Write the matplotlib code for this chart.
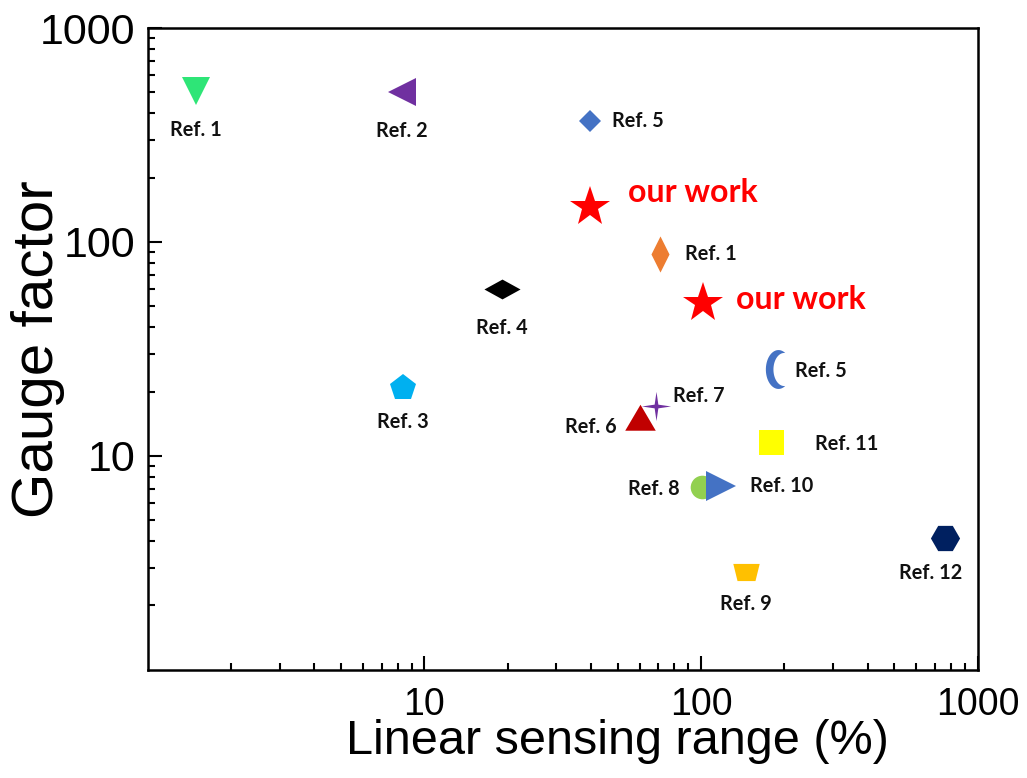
import numpy as np
import matplotlib
matplotlib.use("Agg")
import matplotlib.pyplot as plt
from matplotlib.ticker import LogLocator, NullFormatter, FixedLocator, FixedFormatter

# linear sensing range (%) and gauge factor for each sensor
names = ["Ref. 1", "Ref. 2", "Ref. 5", "our work", "Ref. 1", "our work", "Ref. 4",
         "Ref. 5", "Ref. 3", "Ref. 7", "Ref. 6", "Ref. 11", "Ref. 8", "Ref. 10",
         "Ref. 9", "Ref. 12"]
ranges = [1.49, 8.26, 39.7, 39.7, 71.1, 101.7, 19.0, 190, 8.33, 68.8, 60.2, 179, 100.8, 118, 145, 760]
gauge = [508, 503, 369, 146, 88.3, 52.1, 60.0, 25.4, 20.7, 17.1, 15.0, 11.6, 7.14, 7.2, 2.87, 4.13]
colors = ["#2EE577", "#7030A0", "#4472C4", "#FF0000", "#ED7D31", "#FF0000", "#000000",
          "#4472C4", "#00B0F0", "#7030A0", "#C00000", "#FFFF00", "#92D050", "#4472C4",
          "#FFC000", "#002060"]


def crescent():
    a1 = np.radians(np.linspace(62, 298, 40))
    outer = np.c_[np.cos(a1), np.sin(a1)]
    cx, r = 0.45, 0.85
    # intersection angles for the inner arc
    x0 = (1 - r**2 + cx**2) / (2 * cx)
    y0 = np.sqrt(1 - x0**2)
    t0 = np.degrees(np.arctan2(y0, x0 - cx))
    a2 = np.radians(np.linspace(360 - t0, t0, 40))
    inner = np.c_[cx + r * np.cos(a2), r * np.sin(a2)]
    pts = np.vstack([outer, inner])
    pts[:, 0] *= 0.65
    return pts


def four_star():
    pts = []
    for k in range(8):
        ang = np.radians(90 + 45 * k)
        rad = 1.0 if k % 2 == 0 else 0.18
        pts.append((rad * np.cos(ang), rad * np.sin(ang)))
    return pts


markers = [
    ("v", 20),
    ("<", 20),
    ("D", 11),
    ("*", 30),
    ([(0, 1), (0.5, 0), (0, -1), (-0.5, 0)], 26),
    ("*", 30),
    ([(-1, 0), (0, 0.55), (1, 0), (0, -0.55)], 26),
    (crescent(), 28),
    ("p", 20),
    (four_star(), 21),
    ([(-1, -0.8), (1, -0.8), (0, 0.9)], 22),
    ("s", 18),
    ("o", 17),
    (">", 21),
    ([(-1, 0.65), (1, 0.65), (0.68, -0.65), (-0.68, -0.65)], 19),
    ("H", 21),
]

# label placement: (dx, dy) in points, horizontal alignment
label_pos = [
    (0, -28, "center"), (0, -28, "center"), (16, 0, "left"), (27, 10, "left"),
    (18, 0, "left"), (24, 2, "left"), (0, -28, "center"), (12, -1, "left"),
    (0, -24, "center"), (12, 7, "left"), (-17, -6, "right"), (32, -1, "left"),
    (-16, -1, "right"), (21, 0, "left"), (0, -23, "center"), (-10, -25, "center"),
]

label_font = ["Lato", "Open Sans", "DejaVu Sans"]
axis_font = ["Liberation Sans", "DejaVu Sans"]

fig = plt.figure(figsize=(10.27, 7.78), dpi=100)
ax = fig.add_axes([0.144, 0.139, 0.808, 0.825])

for i in range(len(names)):
    m, ms = markers[i]
    ax.plot(ranges[i], gauge[i], linestyle="none", marker=m, markersize=ms,
            color=colors[i], markeredgewidth=0, zorder=3)
    dx, dy, ha = label_pos[i]
    if names[i] == "our work":
        ax.annotate(names[i], (ranges[i], gauge[i]), xytext=(dx, dy),
                    textcoords="offset points", ha=ha, va="center",
                    fontsize=23, fontweight="bold", color="#FF0000",
                    family=label_font)
    else:
        ax.annotate(names[i], (ranges[i], gauge[i]), xytext=(dx, dy),
                    textcoords="offset points", ha=ha, va="center",
                    fontsize=14.3, fontweight="bold", color="#111111",
                    family=label_font)

ax.set_xscale("log")
ax.set_yscale("log")
ax.set_xlim(1, 1000)
ax.set_ylim(1, 1000)

ax.xaxis.set_major_locator(FixedLocator([10, 100, 1000]))
ax.xaxis.set_major_formatter(FixedFormatter(["10", "100", "1000"]))
ax.yaxis.set_major_locator(FixedLocator([10, 100, 1000]))
ax.yaxis.set_major_formatter(FixedFormatter(["10", "100", "1000"]))
ax.xaxis.set_minor_locator(LogLocator(base=10, subs=np.arange(2, 10)))
ax.yaxis.set_minor_locator(LogLocator(base=10, subs=np.arange(2, 10)))
ax.xaxis.set_minor_formatter(NullFormatter())
ax.yaxis.set_minor_formatter(NullFormatter())

ax.tick_params(which="both", direction="in", top=False, right=False, width=1.5)
ax.tick_params(which="major", length=10)
ax.tick_params(which="minor", length=5)
ax.tick_params(axis="x", which="major", labelsize=27, pad=12)
ax.tick_params(axis="y", which="major", labelsize=31, pad=9)
for lab in ax.get_xticklabels() + ax.get_yticklabels():
    lab.set_family(axis_font)

for sp in ax.spines.values():
    sp.set_linewidth(1.8)

ax.set_xlabel("Linear sensing range (%)", fontsize=35, family=axis_font)
ax.set_ylabel("Gauge factor", fontsize=42, family=axis_font)
ax.xaxis.label.set_va("center")
ax.yaxis.label.set_va("center")
ax.xaxis.set_label_coords(0.566, -0.112)
ax.yaxis.set_label_coords(-0.133, 0.5)

fig.savefig("out.png", dpi=100)
